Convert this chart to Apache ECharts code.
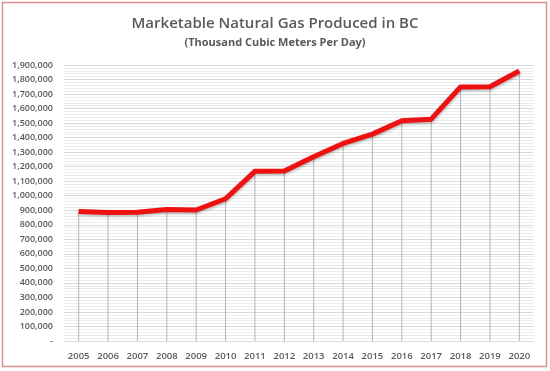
<!DOCTYPE html>
<html><head><meta charset="utf-8">
<script src="https://cdn.jsdelivr.net/npm/echarts@6/dist/echarts.min.js"></script>
<style>html,body{margin:0;padding:0;background:#fff}#c{width:550px;height:371px}</style>
</head><body><div id="c"></div>
<script>
const years = ['2005','2006','2007','2008','2009','2010','2011','2012','2013','2014','2015','2016','2017','2018','2019','2020'];
const gasProduced = [892000, 884000, 886000, 905000, 902000, 979000, 1168000, 1170000, 1269000, 1360000, 1424000, 1516000, 1527000, 1749000, 1750000, 1859000];
const titleText = 'Marketable Natural Gas Produced in BC';
const subtitleText = '(Thousand Cubic Meters Per Day)';

const chart = echarts.init(document.getElementById('c'), null, {renderer:'canvas'});
chart.setOption({
  animation:false,
  backgroundColor:'#fff',
  title:{
    text:titleText, subtext:subtitleText, left:'center', top:11, itemGap:6,
    textStyle:{fontFamily:'Open Sans', fontSize:15, fontWeight:600, color:'#595959'},
    subtextStyle:{fontFamily:'Open Sans', fontSize:11, fontWeight:'bold', color:'#595959'}
  },
  graphic:[{type:'rect', shape:{x:2.5,y:2.5,width:544,height:364}, style:{fill:null, stroke:'#d9918f', lineWidth:1.5}, silent:true}],
  grid:{left:64, right:16, top:65, bottom:30},
  xAxis:{
    type:'category', data:years, boundaryGap:true,
    axisLine:{show:true, lineStyle:{color:'#d9d9d9'}},
    axisTick:{show:false},
    axisLabel:{fontFamily:'Open Sans', fontSize:9.5, fontWeight:600, color:'#595959', margin:10},
    splitLine:{show:false}
  },
  yAxis:{
    type:'value', min:0, max:1900000, interval:100000,
    axisLine:{show:false}, axisTick:{show:false},
    axisLabel:{fontFamily:'Open Sans', fontSize:9, fontWeight:600, color:'#595959', margin:11,
      formatter:v=> v===0 ? '-' : v.toLocaleString('en-US')},
    splitLine:{show:true, lineStyle:{color:'#d9d9d9', width:1}},
    minorTick:{show:false, splitNumber:5},
    minorSplitLine:{show:true, lineStyle:{color:'#ececec', width:1}}
  },
  series:[
    {type:'bar', data:gasProduced, barWidth:1, itemStyle:{color:'#b3b3b3'}, silent:true, z:1},
    {type:'line', data:gasProduced, symbol:'none', z:3,
      lineStyle:{color:'#ee1111', width:5, shadowBlur:3, shadowColor:'rgba(0,0,0,0.3)', shadowOffsetY:1.5, join:'round'}}
  ]
});
</script></body></html>
